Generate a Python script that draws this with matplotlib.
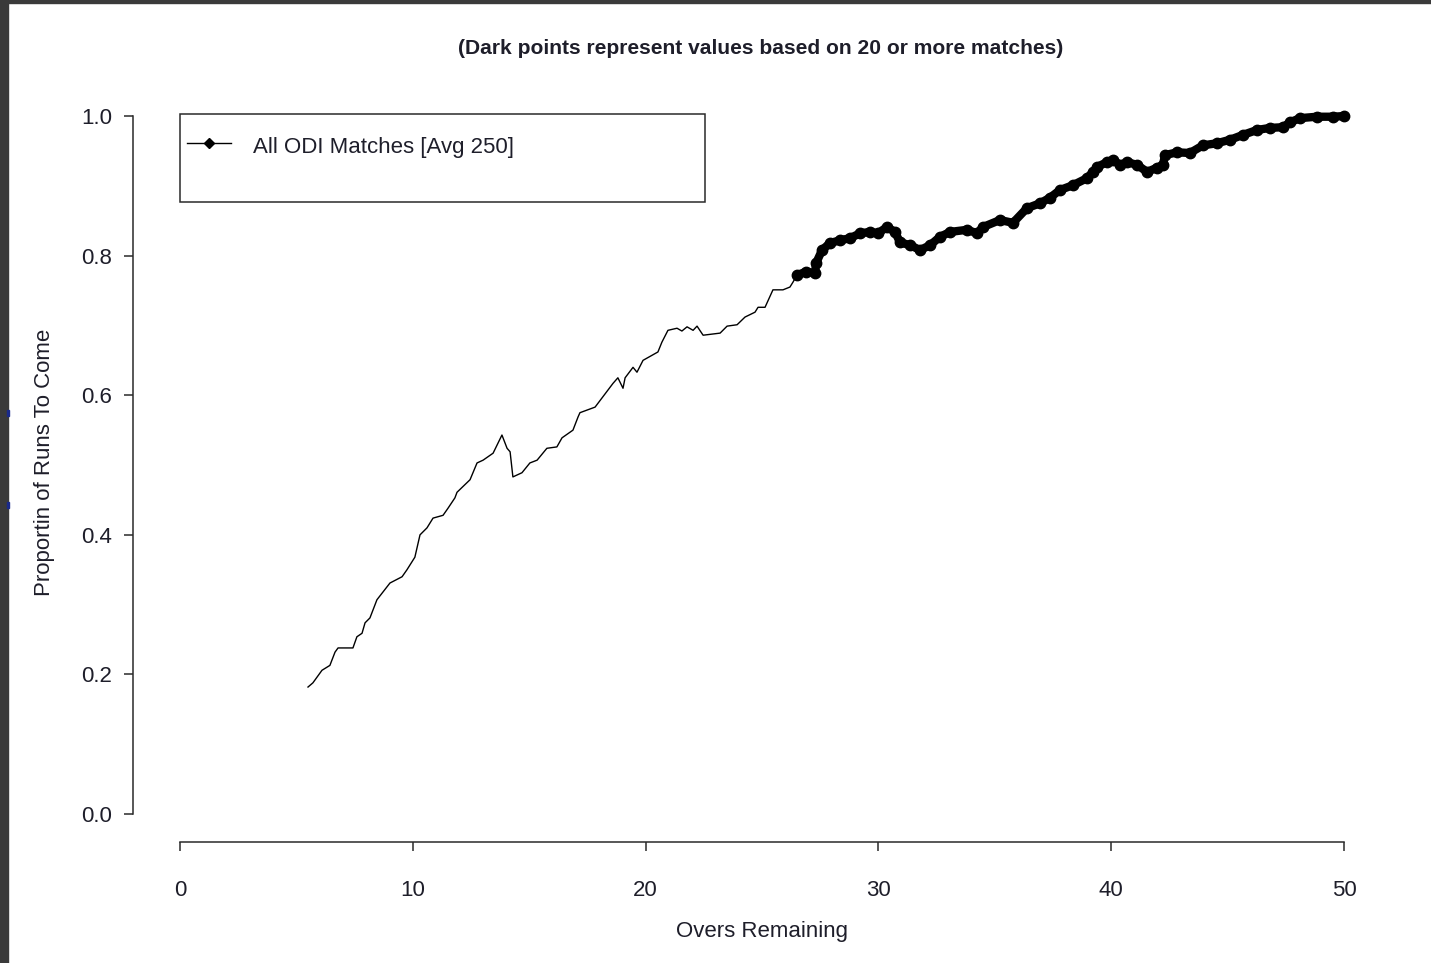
import matplotlib
matplotlib.use("Agg")
import matplotlib.pyplot as plt
from matplotlib.patches import Rectangle
from matplotlib.lines import Line2D
import numpy as np

# proportion of innings runs still to come vs overs remaining (all ODIs)
overs = np.array([
    5.50, 5.71, 6.10, 6.44, 6.66, 6.79, 7.43, 7.60, 7.82, 7.95,
    8.16, 8.46, 9.02, 9.54, 9.75, 10.09, 10.31, 10.61, 10.87, 11.30,
    11.51, 11.81, 11.90, 12.46, 12.76, 13.02, 13.45, 13.83, 14.05, 14.18,
    14.30, 14.69, 15.03, 15.34, 15.76, 16.19, 16.41, 16.88, 17.10, 17.18,
    17.83, 18.60, 18.81, 19.03, 19.12, 19.46, 19.63, 19.89, 20.53, 20.70,
    20.96, 21.35, 21.56, 21.78, 22.04, 22.21, 22.47, 23.20, 23.50, 23.93,
    24.27, 24.70, 24.83, 25.13, 25.47, 25.90, 26.20, 26.33,
    26.50, 26.89, 27.28, 27.32, 27.58, 27.92, 28.35, 28.78, 29.21, 29.64,
    29.98, 30.37, 30.71, 30.93, 31.36, 31.79, 32.22, 32.65, 33.08, 33.81,
    34.24, 34.49, 35.22, 35.78, 36.38, 36.94, 37.37, 37.80, 38.36, 38.96,
    39.22, 39.39, 39.82, 40.08, 40.38, 40.68, 41.11, 41.54, 41.97, 42.22,
    42.31, 42.83, 43.38, 43.94, 44.54, 45.10, 45.66, 46.26, 46.82, 47.38,
    47.68, 48.11, 48.84, 49.53, 50.00])
prop = np.array([
    0.182, 0.188, 0.206, 0.213, 0.232, 0.238, 0.238, 0.254, 0.259, 0.274,
    0.281, 0.307, 0.331, 0.340, 0.350, 0.368, 0.400, 0.410, 0.424, 0.428,
    0.438, 0.453, 0.461, 0.479, 0.503, 0.507, 0.517, 0.543, 0.524, 0.519,
    0.483, 0.489, 0.503, 0.507, 0.524, 0.526, 0.539, 0.550, 0.569, 0.575,
    0.583, 0.617, 0.625, 0.610, 0.625, 0.640, 0.633, 0.650, 0.662, 0.676,
    0.693, 0.696, 0.692, 0.698, 0.693, 0.699, 0.686, 0.689, 0.699, 0.701,
    0.712, 0.719, 0.726, 0.726, 0.751, 0.751, 0.755, 0.762,
    0.772, 0.777, 0.775, 0.789, 0.808, 0.818, 0.822, 0.825, 0.832, 0.834,
    0.832, 0.841, 0.834, 0.819, 0.815, 0.808, 0.815, 0.827, 0.834, 0.837,
    0.832, 0.841, 0.851, 0.847, 0.868, 0.875, 0.883, 0.894, 0.901, 0.911,
    0.920, 0.927, 0.934, 0.937, 0.930, 0.934, 0.930, 0.920, 0.926, 0.930,
    0.944, 0.948, 0.947, 0.958, 0.961, 0.966, 0.973, 0.980, 0.983, 0.984,
    0.991, 0.997, 0.999, 0.999, 1.000])
# points from here on are based on 20 or more matches
dark_from = 26.5

xticks = [0, 10, 20, 30, 40, 50]
yticks = [0.0, 0.2, 0.4, 0.6, 0.8, 1.0]
ytick_labels = ["0.0", "0.2", "0.4", "0.6", "0.8", "1.0"]

W, H = 1431, 963
fig = plt.figure(figsize=(W / 100, H / 100), dpi=100)
fig.patch.set_facecolor("white")

axfont = ["Liberation Sans", "DejaVu Sans"]
fsize = 16
txt_col = "#1e1e2a"

# window frame strips
fig.patches.append(Rectangle((0, 0), 8 / W, 1, transform=fig.transFigure,
                             color="#3a3a3a", zorder=0))
fig.patches.append(Rectangle((0, 1 - 3 / H), 1, 3 / H, transform=fig.transFigure,
                             color="#3a3a3a", zorder=0))
for yy in (413, 505):
    fig.patches.append(Rectangle((7 / W, 1 - (yy + 3) / H), 2 / W, 6 / H,
                                 transform=fig.transFigure, color="#1a2a8a",
                                 zorder=1))

ax = fig.add_axes([133.4 / W, (H - 842) / H, (1390.6 - 133.4) / W, (842 - 88.1) / H])
ax.set_xlim(-2, 52)
ax.set_ylim(-0.04, 1.04)

ax.plot(overs, prop, color="black", lw=1.0, zorder=3)
dark = overs >= dark_from
ax.plot(overs[dark], prop[dark], color="black", lw=6.0,
        solid_capstyle="round", solid_joinstyle="round", zorder=4)
ax.plot(overs[dark], prop[dark], "o", color="black", ms=7.5, zorder=5)

for side in ("top", "right"):
    ax.spines[side].set_visible(False)
ax.spines["left"].set_bounds(0, 1)
ax.spines["bottom"].set_bounds(0, 50)
for side in ("left", "bottom"):
    ax.spines[side].set_color("#2a2a2a")
    ax.spines[side].set_linewidth(1.1)

ax.set_xticks(xticks)
ax.set_yticks(yticks)
ax.set_yticklabels(ytick_labels)
ax.tick_params(axis="both", direction="out", length=6.5, width=1.1,
               color="#2a2a2a", labelcolor=txt_col)
ax.tick_params(axis="y", pad=9)
ax.tick_params(axis="x", pad=21)
for lab in ax.get_xticklabels() + ax.get_yticklabels():
    lab.set_family(axfont)
    lab.set_fontsize(fsize)

fig.text(762 / W, 1 - 931 / H, "Overs Remaining", ha="center", va="center",
         family=axfont, fontsize=fsize, color=txt_col)
fig.text(45 / W, 1 - 462 / H, "Proportin of Runs To Come", ha="center",
         va="center", rotation=90, family=axfont, fontsize=fsize, color=txt_col)
fig.text(761 / W, 1 - 48.5 / H,
         "(Dark points represent values based on 20 or more matches)",
         ha="center", va="center", family=axfont,
         fontweight="bold", fontsize=15.1, color=txt_col)

# legend box
fig.patches.append(Rectangle((180 / W, 1 - 202 / H), 525 / W, 88 / H,
                             transform=fig.transFigure, fill=False,
                             edgecolor="#2a2a2a", lw=1.1, zorder=6))
fig.lines.append(Line2D([187 / W, 231 / W], [1 - 143 / H, 1 - 143 / H],
                        transform=fig.transFigure, color="black", lw=1.0))
fig.lines.append(Line2D([209 / W], [1 - 143 / H], transform=fig.transFigure,
                        marker="D", ms=5.5, color="black"))
fig.text(253 / W, 1 - 147 / H, "All ODI Matches [Avg 250]", ha="left",
         va="center", family=axfont, fontsize=fsize, color=txt_col)

fig.savefig("out.png", dpi=100)
